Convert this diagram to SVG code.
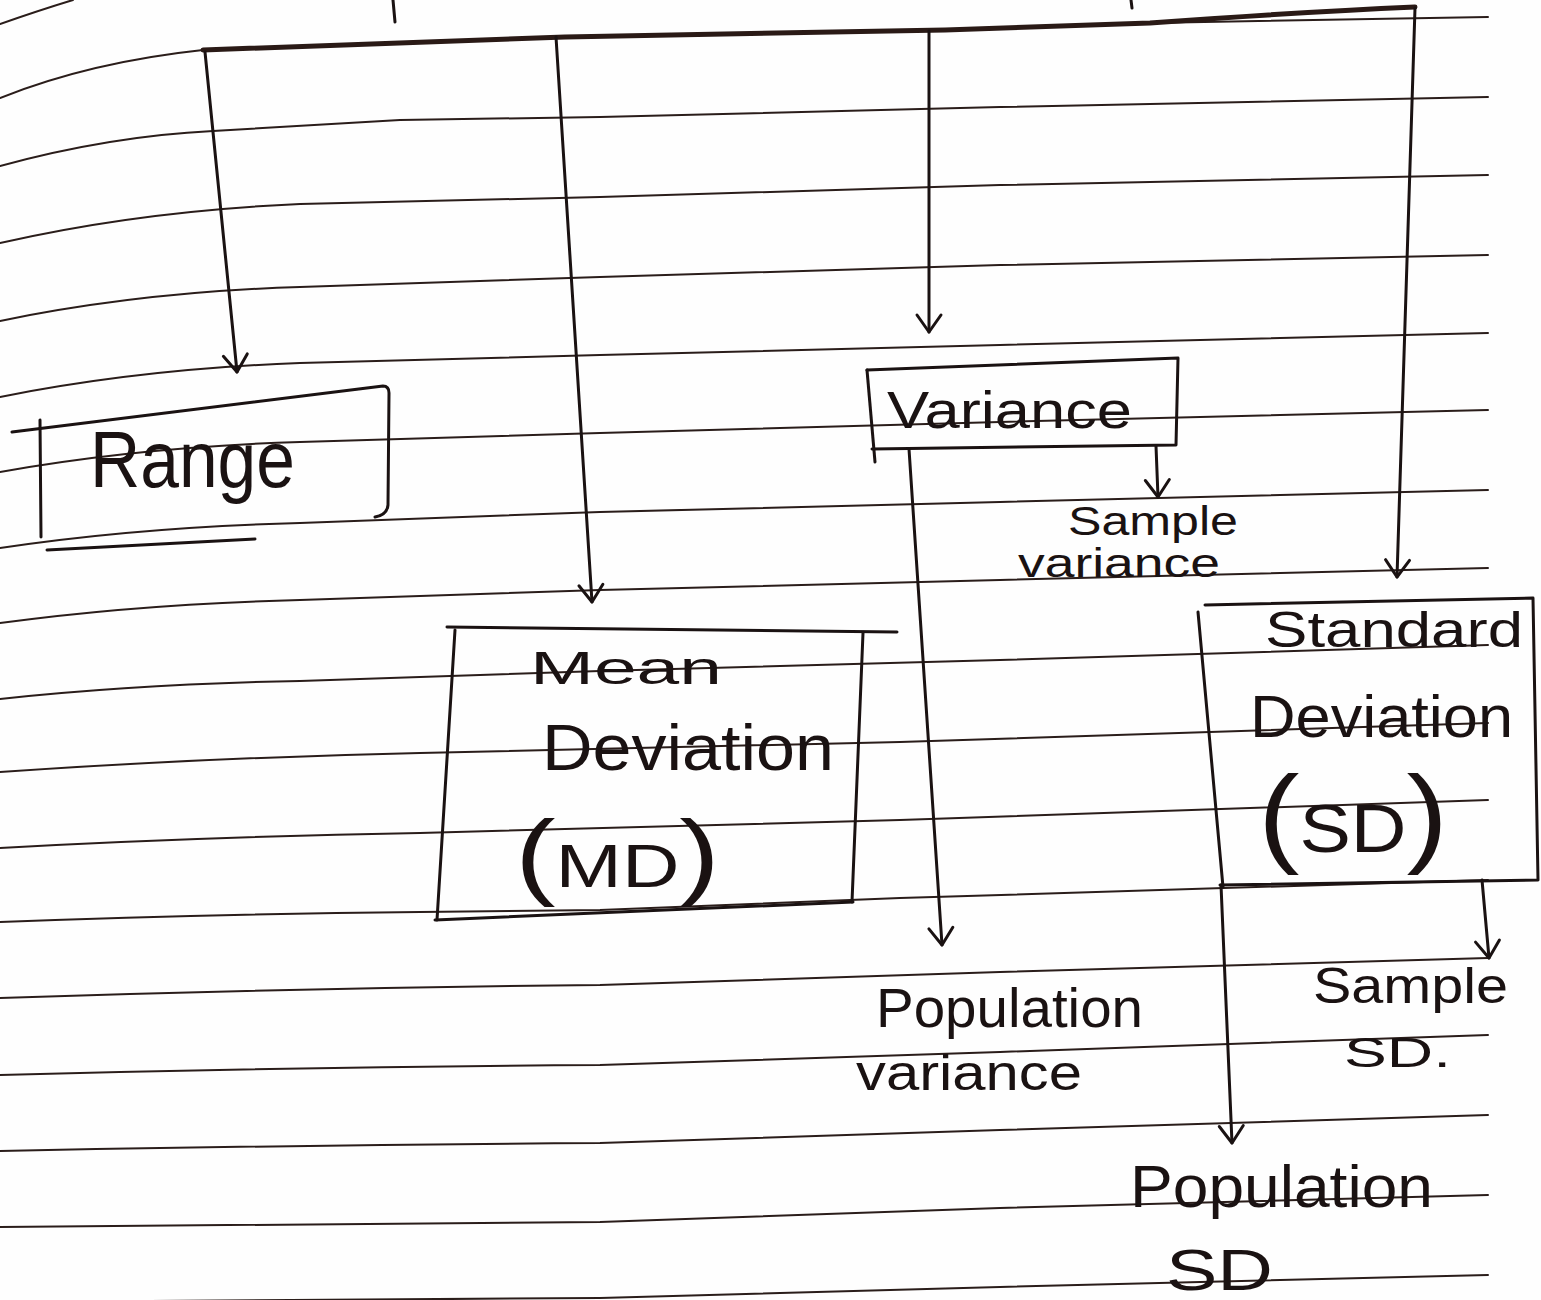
<svg xmlns="http://www.w3.org/2000/svg" width="1541" height="1300" viewBox="0 0 1541 1300">
  <defs>
    <style>
      .rule { fill: none; stroke: #2a1d1a; stroke-width: 2; stroke-linejoin: round; stroke-linecap: round; }
      .ink { fill: none; stroke: #1a1212; stroke-width: 3; stroke-linejoin: round; stroke-linecap: round; }
      .bar { fill: none; stroke: #2a1a16; stroke-width: 5; stroke-linecap: round; stroke-linejoin: round; }
      .hand { font-family: "Liberation Sans", Arial, sans-serif; fill: #1a1212; }
    </style>
    <marker id="v" markerUnits="userSpaceOnUse" markerWidth="40" markerHeight="40" viewBox="0 0 40 40" refX="20" refY="20" orient="auto">
      <path d="M3,8 L20,20 L3,32" fill="none" stroke="#1a1212" stroke-width="3" stroke-linecap="round" stroke-linejoin="round"/>
    </marker>
  </defs>
  <rect x="0" y="0" width="1541" height="1300" fill="#fefefe"/>

  <g id="paper">
    <path class="rule" d="M0,24 Q40,10 73,0"/>
    <path class="rule" d="M0,98 Q90,62 203,50"/>
    <path class="rule" d="M1150,23 L1488,17"/>
    <path class="rule" d="M0,166 Q110,136 213,131 L400,120 L600,117 L1000,107 L1488,97"/>
    <path class="rule" d="M0,243 Q140,211 300,204 L600,197 L1000,185 L1488,175"/>
    <path class="rule" d="M0,321 Q140,292 300,287 L600,277 L1000,265 L1488,255"/>
    <path class="rule" d="M0,397 Q140,369 300,363 L600,355 L1000,345 L1488,333"/>
    <path class="rule" d="M0,472 Q140,447 300,442 L600,433 L1000,422 L1488,410"/>
    <path class="rule" d="M0,548 Q140,527 300,523 L600,512 L1000,502 L1488,490"/>
    <path class="rule" d="M0,623 Q140,604 300,600 L600,590 L1000,580 L1488,568"/>
    <path class="rule" d="M0,699 Q140,684 300,681 L600,671 L1000,660 L1488,645"/>
    <path class="rule" d="M0,772 Q200,758 420,753 L900,742 L1488,723"/>
    <path class="rule" d="M0,848 Q200,837 420,833 L900,820 L1488,800"/>
    <path class="rule" d="M0,922 Q200,914 420,912 L600,910 L900,898 L1488,880"/>
    <path class="rule" d="M0,998 Q300,988 600,985 L1000,972 L1488,958"/>
    <path class="rule" d="M0,1075 Q300,1067 600,1065 L1000,1052 L1488,1035"/>
    <path class="rule" d="M0,1151 Q300,1145 600,1143 L1000,1130 L1488,1115"/>
    <path class="rule" d="M0,1227 Q300,1224 600,1222 L1000,1208 L1488,1195"/>
    <path class="rule" d="M0,1302 Q300,1300 600,1298 L1000,1287 L1488,1275"/>
  </g>

  <g id="connectors">
    <path class="ink" d="M393,0 L395,22"/>
    <path class="ink" d="M1131,0 L1132,8"/>
    <path class="bar" d="M203,50 L565,37 L945,30 L1150,23 Q1300,12 1415,7"/>
    <path class="ink" d="M205,52 L237,372" marker-end="url(#v)"/>
    <path class="ink" d="M556,37 L592,602" marker-end="url(#v)"/>
    <path class="ink" d="M929,31 L929,332" marker-end="url(#v)"/>
    <path class="ink" d="M1415,8 L1397,577" marker-end="url(#v)"/>
    <path class="ink" d="M909,449 L942,945" marker-end="url(#v)"/>
    <path class="ink" d="M1156,446 L1158,497" marker-end="url(#v)"/>
    <path class="ink" d="M1221,885 L1232,1143" marker-end="url(#v)"/>
    <path class="ink" d="M1482,880 L1489,958" marker-end="url(#v)"/>
  </g>

  <g id="node-range">
    <path class="ink" d="M12,432 L383,386 Q389,386 389,393 L388,505 Q387,515 375,517"/>
    <path class="ink" d="M40,420 L41,537"/>
    <path class="ink" d="M47,550 L255,539"/>
    <text class="hand" x="90" y="487" font-size="80" textLength="205" lengthAdjust="spacingAndGlyphs">Range</text>
  </g>

  <g id="node-variance">
    <path class="ink" d="M867,370 L1178,358 L1176,445 L872,449"/>
    <path class="ink" d="M867,370 L875,462"/>
    <text class="hand" x="887" y="428" font-size="52" textLength="245" lengthAdjust="spacingAndGlyphs">Variance</text>
  </g>

  <g id="node-mean-deviation">
    <path class="ink" d="M447,627 L897,632"/>
    <path class="ink" d="M455,630 L437,920"/>
    <path class="ink" d="M435,920 L853,902"/>
    <path class="ink" d="M863,633 L852,902"/>
    <text class="hand" x="530" y="684" font-size="46" textLength="192" lengthAdjust="spacingAndGlyphs">Mean</text>
    <text class="hand" x="542" y="770" font-size="64" textLength="292" lengthAdjust="spacingAndGlyphs">Deviation</text>
    <text class="hand" x="515" y="887" font-size="62" textLength="205" lengthAdjust="spacingAndGlyphs"><tspan font-size="95">(</tspan>MD<tspan font-size="95">)</tspan></text>
  </g>

  <g id="node-standard-deviation">
    <path class="ink" d="M1205,605 L1533,598 L1538,880 L1220,885"/>
    <path class="ink" d="M1198,612 L1223,887"/>
    <text class="hand" x="1265" y="647" font-size="50" textLength="258" lengthAdjust="spacingAndGlyphs">Standard</text>
    <text class="hand" x="1250" y="737" font-size="60" textLength="263" lengthAdjust="spacingAndGlyphs">Deviation</text>
    <text class="hand" x="1258" y="852" font-size="68" textLength="190" lengthAdjust="spacingAndGlyphs"><tspan font-size="110">(</tspan>SD<tspan font-size="110">)</tspan></text>
  </g>

  <g id="node-sample-variance">
    <text class="hand" x="1068" y="535" font-size="40" textLength="170" lengthAdjust="spacingAndGlyphs">Sample</text>
    <text class="hand" x="1018" y="577" font-size="40" textLength="202" lengthAdjust="spacingAndGlyphs">variance</text>
  </g>

  <g id="node-population-variance">
    <text class="hand" x="876" y="1027" font-size="55" textLength="267" lengthAdjust="spacingAndGlyphs">Population</text>
    <text class="hand" x="856" y="1090" font-size="50" textLength="226" lengthAdjust="spacingAndGlyphs">variance</text>
  </g>

  <g id="node-sample-sd">
    <text class="hand" x="1313" y="1003" font-size="50" textLength="195" lengthAdjust="spacingAndGlyphs">Sample</text>
    <text class="hand" x="1344" y="1067" font-size="42" textLength="107" lengthAdjust="spacingAndGlyphs">SD.</text>
  </g>

  <g id="node-population-sd">
    <text class="hand" x="1130" y="1207" font-size="60" textLength="303" lengthAdjust="spacingAndGlyphs">Population</text>
    <text class="hand" x="1166" y="1290" font-size="58" textLength="107" lengthAdjust="spacingAndGlyphs">SD</text>
  </g>
</svg>
